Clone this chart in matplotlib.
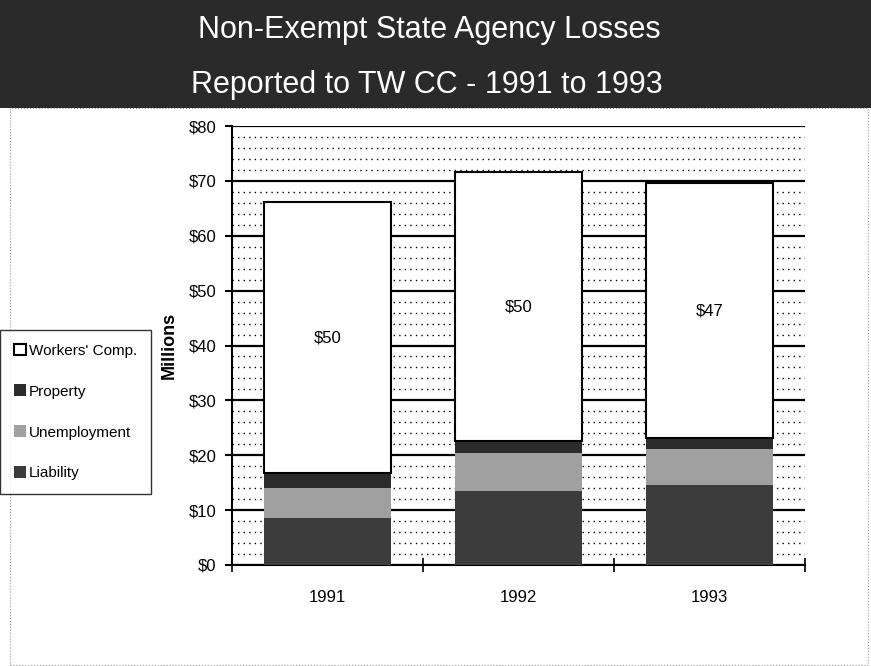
import matplotlib
matplotlib.use("Agg")
import matplotlib.pyplot as plt
from matplotlib.patches import Rectangle
import numpy as np

plt.rcParams["font.family"] = ["Liberation Sans", "DejaVu Sans"]

years = ["1991", "1992", "1993"]
liability = [8.6, 13.5, 14.6]
unemployment = [5.4, 6.9, 6.5]
property_ = [2.8, 2.2, 2.0]
workers_comp = [49.3, 49.0, 46.5]
wc_labels = ["$50", "$50", "$47"]
y_ticks = [0, 10, 20, 30, 40, 50, 60, 70, 80]

fig = plt.figure(figsize=(8.71, 6.66), dpi=100)

# dark title band
fig.patches.append(Rectangle((0, 1 - 108 / 666), 1, 108 / 666, transform=fig.transFigure,
                             facecolor="#2a2a2a", edgecolor="none", zorder=0))
fig.text(0.493, 1 - 30 / 666, "Non-Exempt State Agency Losses", color="white",
         fontsize=22, ha="center", va="center")
fig.text(0.490, 1 - 85 / 666, "Reported to TW CC - 1991 to 1993", color="white",
         fontsize=22, ha="center", va="center")
# thin border round the chart area
fig.patches.append(Rectangle((0.012, 0.002), 0.985, 1 - 108 / 666 - 0.002, transform=fig.transFigure,
                             facecolor="none", edgecolor="#999999", linewidth=0.8, linestyle=":"))

ax = fig.add_axes([232 / 871, 1 - 565 / 666, (805 - 232) / 871, (565 - 126) / 666])
x = np.arange(len(years))
width = 0.67

# dotted background rows between gridlines
for v in np.arange(0, 80, 2):
    if v % 10 != 0:
        ax.axhline(v, color="black", linewidth=1.0, linestyle=(0, (1, 3)), zorder=1)
for v in y_ticks:
    ax.axhline(v, color="black", linewidth=1.6, zorder=1)

b1 = ax.bar(x, liability, width, color="#3c3c3c", zorder=3, label="Liability")
bottom = np.array(liability)
b2 = ax.bar(x, unemployment, width, bottom=bottom, color="#a0a0a0", zorder=3, label="Unemployment")
bottom = bottom + np.array(unemployment)
b3 = ax.bar(x, property_, width, bottom=bottom, color="#2b2b2b", zorder=3, label="Property")
bottom = bottom + np.array(property_)
b4 = ax.bar(x, workers_comp, width, bottom=bottom, color="white", edgecolor="black",
            linewidth=1.5, zorder=3, label="Workers' Comp.")

for i, lab in enumerate(wc_labels):
    ax.text(x[i], bottom[i] + workers_comp[i] / 2, lab, ha="center", va="center",
            fontsize=12, zorder=4)

ax.set_xlim(-0.5, 2.5)
ax.set_ylim(0, 80)
ax.set_yticks(y_ticks)
ax.set_yticklabels([f"${v}" for v in y_ticks], fontsize=12)
ax.set_xticks(x)
ax.set_xticklabels(years, fontsize=12)
ax.set_xticks([-0.5, 0.5, 1.5, 2.5], minor=True)
ax.tick_params(axis="x", which="major", length=0, pad=18)
ax.tick_params(axis="x", which="minor", length=10, direction="inout", width=1.2)
ax.tick_params(axis="y", length=5, width=1.5, pad=6)
ax.spines["top"].set_visible(False)
ax.spines["right"].set_visible(False)
ax.spines["left"].set_linewidth(1.5)
ax.spines["bottom"].set_linewidth(1.5)
ax.set_ylabel("Millions", fontsize=13, fontweight="bold", labelpad=8)

handles = [b4, b3, b2, b1]
leg = fig.legend(handles, [h.get_label() for h in handles], loc="center left",
                 bbox_to_anchor=(0.0, 1 - 412 / 666), fontsize=11, frameon=True,
                 fancybox=False, edgecolor="black", handlelength=0.8, handleheight=0.8,
                 handletextpad=0.2, labelspacing=1.75, borderpad=0.9, borderaxespad=0)
leg.get_frame().set_linewidth(1.0)

fig.savefig("out.png", dpi=100)
